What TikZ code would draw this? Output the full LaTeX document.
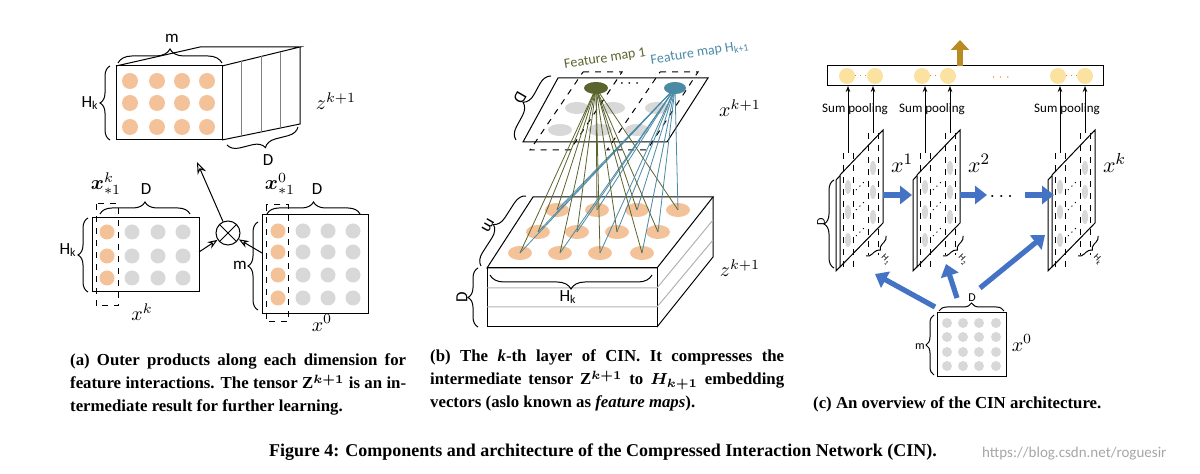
\documentclass[tikz,border=0pt]{standalone}
\usepackage{amsmath,amssymb}
\usepackage{fontspec}
\setmainfont{Liberation Serif}
\newfontfamily\lab{Carlito}
\usetikzlibrary{decorations.pathreplacing,arrows.meta,calc,shapes.geometric}
\definecolor{org}{RGB}{244,194,152}
\definecolor{gry}{RGB}{216,216,216}
\definecolor{oliv}{RGB}{90,100,45}
\definecolor{teal2}{RGB}{75,138,165}
\definecolor{blu}{RGB}{68,114,196}
\definecolor{gold}{RGB}{185,140,35}
\definecolor{yel}{RGB}{251,226,160}
\tikzset{
 br/.style={decorate,decoration={brace,amplitude=#1}},
 br/.default=5,
 lb/.style={font=\lab\fontsize{8.5}{9}\selectfont},
 mth/.style={font=\fontsize{10}{11}\selectfont},
 captxt/.style={font=\bfseries\fontsize{8.4}{11.5}\selectfont,align=justify,anchor=north west},
 barr/.style={blu,line width=2.6pt,-{Triangle[length=6pt,width=9pt]}},
}
\begin{document}
\begin{tikzpicture}[x=0.5pt,y=-0.5pt,line width=0.5pt]
\useasboundingbox (0,0) rectangle (1200,474);
% ================= panel a =================
\draw (116,66) rectangle (222,140);
\draw (116,66) -- (200,47) -- (300,47) -- (222,66);
\draw (300,47) -- (300,124) -- (222,140);
\foreach \t in {0.25,0.5,0.75}{
  \draw[gray] ($(222,66)!\t!(300,47)$) -- ($(222,140)!\t!(300,124)$);
}
\foreach \x in {130,157,182,207}\foreach \y in {81,103,127}
  \fill[org] (\x,\y) circle (8);
\draw[br=7] (118,63) -- (222,63);
\node[lb] (am) at (172,38) {m};
\draw[br=5] (110,140) -- (110,66);
\node[lb] (ahk) at (90,103) {H\textsubscript{k}};
\draw[br=6] (298,127) -- (227,145);
\node[lb] (ad) at (268,160) {D};
\node[mth] (az) at (336,101) {$z^{k+1}$};
% x^k
\draw (92,218) rectangle (199,292);
\foreach \x in {132,158,183}\foreach \y in {232,256,278} \fill[gry] (\x,\y) circle (7.5);
\foreach \y in {232,256,278} \fill[org] (107,\y) circle (7.5);
\draw[dashed] (96,204) rectangle (118,306);
\draw[br=6] (100,214) -- (190,214);
\node[lb] (aD1) at (146,189) {D};
\node[mth] at (106,184) {$\boldsymbol{x}^{k}_{*1}$};
\draw[br=5] (88,292) -- (88,218);
\node[lb] at (68,250) {H\textsubscript{k}};
\node[mth] (axk) at (142,312) {$x^k$};
% x^0
\draw (262,215) rectangle (368,314);
\foreach \x in {303,328,353}\foreach \y in {231,252,275,298} \fill[gry] (\x,\y) circle (7.5);
\foreach \y in {231,252,275,298} \fill[org] (278,\y) circle (7.5);
\draw[dashed] (266,205) rectangle (288,322);
\draw[br=6] (267,214) -- (360,214);
\node[lb] at (317,189) {D};
\node[mth] at (280,184) {$\boldsymbol{x}^{0}_{*1}$};
\draw[br=5] (258,310) -- (258,222);
\node[lb] at (240,265) {m};
\node[mth] (ax0) at (322,323) {$x^0$};
% otimes
\node[circle,draw,inner sep=0pt,minimum size=12pt] (ot) at (228,233) {};
\draw (ot.north west)--(ot.south east) (ot.north east)--(ot.south west);
\coordinate (xkr) at (199,252);
\coordinate (x0l) at (262,253);
\coordinate (ztip) at (197,162);
\draw[-{Stealth[length=5pt,open]}] (xkr) -- (ot);
\draw[-{Stealth[length=5pt,open]}] (x0l) -- (ot);
\draw[-{Stealth[length=6pt,open]}] (ot) -- (ztip);
\node[captxt,text width=168pt] (capa) at (63,347) {(a) Outer products along each dimension for feature interactions. The tensor Z$^{\boldsymbol{k+1}}$ is an in\-termediate result for further learning.};
% ================= panel b =================
\draw[fill=white] (487,268) -- (533,197) -- (713,197) -- (657,268) -- cycle;
\draw (487,268) rectangle (657,327);
\draw (657,327) -- (713,257) -- (713,197);
\draw[gray!60] (487,288) -- (657,288) -- (713,220);
\draw[gray!60] (487,307) -- (657,307) -- (713,240);
\foreach \x/\y in {557/210,597/210,637/210,678/210,538/232,577/232,617/232,658/232,520/253,560/253,600/253,642/253}
  \fill[org] (\x,\y) ellipse (12 and 7);
\draw (523,142) -- (558,78) -- (708,78) -- (667,142) -- cycle;
\foreach \x/\y in {577/108,613/108,657/108,560/130,600/130,637/130}
  \fill[gry] (\x,\y) ellipse (12 and 6);
\draw[dashed] (583,72) -- (622,72) -- (570,150) -- (530,150) -- cycle;
\draw[dashed] (660,72) -- (698,72) -- (647,150) -- (607,150) -- cycle;
\node[ellipse,fill=oliv,minimum width=12pt,minimum height=6pt,inner sep=0pt] (f1) at (596,88) {};
\node[ellipse,fill=teal2,minimum width=11pt,minimum height=6pt,inner sep=0pt] (fh) at (675,88) {};
\node[font=\fontsize{8}{8}\selectfont] at (631,84) {$\cdots$};
\foreach \x/\y in {557/210,597/210,637/210,678/210,538/232,577/232,617/232,658/232,520/253,560/253,600/253,642/253}{
  \draw[oliv,line width=0.4pt] (f1.center) -- (\x,\y);
  \draw[teal2,line width=0.4pt] (fh.center) -- (\x,\y);
}
\node[font=\lab\fontsize{7}{7}\selectfont,text=oliv,rotate=9] at (605,59) {Feature map 1};
\node[font=\lab\fontsize{7}{7}\selectfont,text=teal2,rotate=9] at (700,53) {Feature map H\textsubscript{k+1}};
\draw[br=6] (516,140) -- (551,76);
\node[lb,rotate=-120] at (520,98) {D};
\draw[br=6] (481,266) -- (526,196);
\node[lb,rotate=-120] at (488,225) {m};
\draw[br=7] (652,275) -- (490,275);
\node[lb] at (568,297) {H\textsubscript{k}};
\draw[br=5] (478,327) -- (478,268);
\node[lb,rotate=90] at (462,297) {D};
\node[mth] at (740,108) {$x^{k+1}$};
\node[mth] at (740,268) {$z^{k+1}$};
\node[captxt,text width=177pt] (capb) at (423,343) {(b) The \textit{k}-th layer of CIN. It compresses the\linebreak intermediate tensor Z$^{\boldsymbol{k+1}}$ to $\boldsymbol{H_{k+1}}$ embedding\linebreak vectors (aslo known as \textit{feature maps}).};
% ================= panel c =================
\draw (827,66) rectangle (1103,86);
\draw[gold,line width=3pt,-{Triangle[length=5pt,width=9pt]}] (960,66) -- (960,40);
\foreach \a/\b in {847/875,922/948,1058/1085}{
  \fill[yel] (\a,76) circle (8);
  \fill[yel] (\b,76) circle (8);
  \draw[orange,dotted] (\a+8,76) -- (\b-8,76);
}
\node[font=\fontsize{6}{6}\selectfont,text=orange] at (1002,78) {$\cdots$};
\foreach \dx/\lbl/\hl in {0/1/1,77/2/2,212/k/k}{
\begin{scope}[shift={(\dx,0)}]
  \draw (836,271) -- (836,180) -- (879,135) -- (879,226) -- cycle;
  \draw[fill=white] (840,267) -- (840,175) -- (883,130) -- (883,223) -- cycle;
  \foreach \y in {187,212,240} \fill[gry] (848,\y) ellipse (3 and 7);
  \foreach \y in {168,192,217} \fill[gry] (873,\y) ellipse (3 and 7);
  \draw[dotted] (856,190) -- (866,180) (856,210) -- (866,200) (856,236) -- (866,226);
  \draw[dashed,line width=0.4pt] (843,153) -- (843,268) (853,153) -- (853,268);
  \draw[dashed,line width=0.4pt] (868,133) -- (868,255) (878,133) -- (878,255);
  \draw[-{Stealth[length=3pt]},line width=0.4pt] (848,153) -- (848,86);
  \draw[-{Stealth[length=3pt]},line width=0.4pt] (873,133) -- (873,86);
  \node[font=\lab\fontsize{6.5}{7}\selectfont,inner sep=0.5pt] at (855,109) {Sum pooling};
  \node[font=\fontsize{11}{11}\selectfont,anchor=west] at (884,163) {$x^{\lbl}$};
  \draw[br=3] (886,236) -- (866,256);
  \node[font=\lab\fontsize{4.5}{5}\selectfont,rotate=-45,inner sep=0pt] at (886,260) {H\textsubscript{\hl}};
\end{scope}}
\draw[br=5] (834,268) -- (834,180);
\node[font=\lab\fontsize{6}{6}\selectfont,rotate=90] at (821,222) {D};
\draw[barr] (883,195) -- (912,195);
\draw[barr] (960,195) -- (987,195);
\node[font=\fontsize{10}{10}\selectfont] at (1003,197) {$\cdots$};
\draw[barr] (1025,195) -- (1054,195);
% x0
\draw (937,313) rectangle (1006,377);
\foreach \x in {947,963,979,996}\foreach \y in {323,337,352,366} \fill[gry] (\x,\y) circle (5);
\draw[br=4] (939,311) -- (1004,311);
\node[font=\lab\fontsize{6}{6}\selectfont] at (972,298) {D};
\draw[br=4] (934,375) -- (934,315);
\node[font=\lab\fontsize{6}{6}\selectfont] at (920,347) {m};
\node[mth] at (1022,343) {$x^0$};
\draw[barr] (935,307) -- (875,274);
\draw[barr] (957,298) -- (946,264);
\draw[barr] (980,288) -- (1045,235);
\node[font=\bfseries\fontsize{8.4}{11}\selectfont,anchor=west] at (806,404) {(c) An overview of the CIN architecture.};
\node[font=\bfseries\fontsize{9}{11}\selectfont] at (603,452) {Figure 4: Components and architecture of the Compressed Interaction Network (CIN).};
\node[font=\lab\fontsize{7.5}{8}\selectfont,text=gray!70,anchor=west] at (975,454) {https://blog.csdn.net/roguesir};
\end{tikzpicture}
\end{document}
